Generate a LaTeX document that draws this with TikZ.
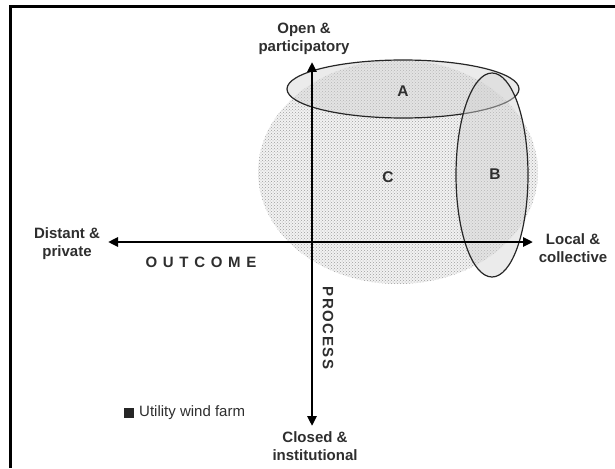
\documentclass[tikz,border=0pt]{standalone}
\usepackage{fontspec}
\setmainfont{Liberation Sans}
\usetikzlibrary{arrows.meta,patterns}
\definecolor{txt}{HTML}{2E2E2E}
\tikzset{
  axis/.style={line width=2.8pt, {Triangle[length=10pt,width=9pt]}-{Triangle[length=10pt,width=9pt]}},
  lbl/.style={font=\fontsize{15}{18}\selectfont\bfseries, text=txt, align=center, inner sep=0pt},
  letter/.style={font=\fontsize{15.5}{18}\selectfont\bfseries, text=txt, inner sep=0pt},
  oval/.style={draw=black!85, line width=1.2pt, fill=gray!35, fill opacity=0.45},
}
\begin{document}
\begin{tikzpicture}[x=1pt,y=-1pt]
\useasboundingbox (0,0) rectangle (615,468);
% frame
\draw[line width=3pt] (10,468) -- (10,7) -- (615,7);
% dotted region C
\fill[gray!10] (398,172) ellipse [x radius=140, y radius=112];
\fill[pattern=crosshatch dots, pattern color=gray!75] (398,172) ellipse [x radius=140, y radius=112];
% ovals A and B
\draw[oval] (403,89) ellipse [x radius=116, y radius=29];
\draw[oval] (492,175) ellipse [x radius=36, y radius=102];
% axes
\coordinate (xl) at (108,242);
\coordinate (xr) at (533,242);
\coordinate (yt) at (312,62);
\coordinate (yb) at (312,426);
\draw[axis] (xl) -- (xr);
\draw[axis] (yt) -- (yb);
% labels
\node[lbl] (open) at (304,39) {Open \&\\participatory};
\node[lbl] (closed) at (315,446) {Closed \&\\institutional};
\node[lbl] (distant) at (67,244) {Distant \&\\private};
\node[lbl] (local) at (573,248) {Local \&\\collective};
\node[lbl, font=\fontsize{15}{18}\selectfont\bfseries\addfontfeature{LetterSpace=38}] (outcome) at (201,262) {OUTCOME};
\node[lbl, rotate=-90, font=\fontsize{15}{18}\selectfont\bfseries\addfontfeature{LetterSpace=10}] (process) at (328,328) {PROCESS};
\node[letter] (A) at (403,91) {A};
\node[letter] (B) at (495,174) {B};
\node[letter] (C) at (388,177) {C};
% legend
\node[fill=black!85, minimum size=9.5pt, inner sep=0pt] (sq) at (129,413) {};
\node[anchor=west, inner sep=0pt, font=\fontsize{15}{18}\selectfont, text=txt] (legend) at (139,413) {Utility wind farm};
\end{tikzpicture}
\end{document}
